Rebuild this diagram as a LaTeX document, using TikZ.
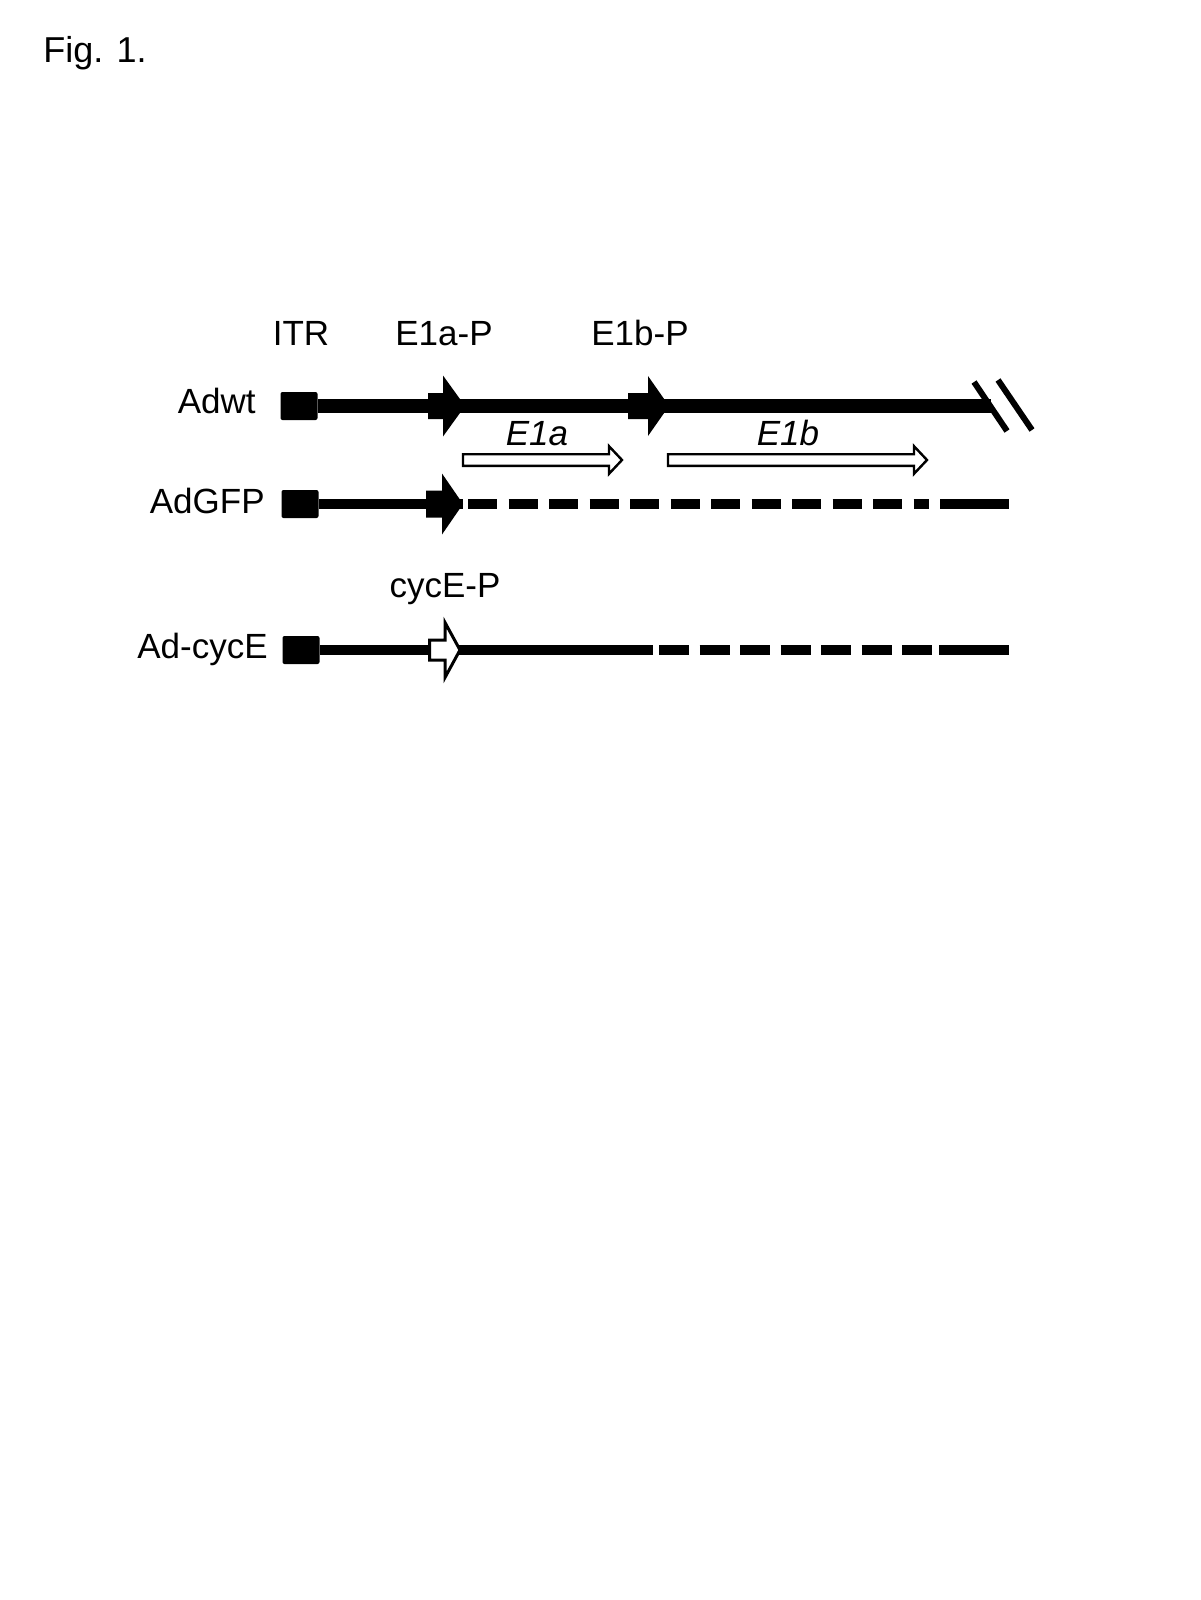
\documentclass[tikz,border=0pt]{standalone}
\usepackage{fontspec}
\setmainfont{Liberation Sans}
\usepackage{tikz}
\tikzstyle{itr} = [rectangle, rounded corners=1pt, minimum width=18.5pt, minimum height=14pt, fill=black, inner sep=0pt]
\tikzstyle{construct} = [font=\fontsize{17.5}{21}\selectfont, inner sep=0pt, anchor=base east]
\tikzstyle{site} = [font=\fontsize{17.5}{21}\selectfont, inner sep=0pt, anchor=base]
\tikzstyle{gene} = [font=\fontsize{17.5}{21}\selectfont\itshape, inner sep=0pt, anchor=base]
\tikzstyle{thickline} = [line width=7pt]
\tikzstyle{thinline} = [line width=5pt]
\tikzstyle{deleted} = [line width=5pt, dash pattern=on 14.5pt off 5.75pt]
\tikzstyle{transcript} = [draw=black, fill=white, line width=1.2pt, line join=miter]
\tikzstyle{promoter} = [fill=black]
\tikzstyle{openpromoter} = [draw=black, fill=white, line width=1.5pt, line join=miter]
\tikzstyle{breakmark} = [line width=3pt]
% block arrow: style, tail x, head base x, tip x, centre y, half body, half head
\newcommand{\blockarrow}[7]{\path[#1] (#2,#5-#6) -- (#3,#5-#6) -- (#3,#5-#7) -- (#4,#5) -- (#3,#5+#7) -- (#3,#5+#6) -- (#2,#5+#6) -- cycle;}

\begin{document}
\begin{tikzpicture}[x=0.5pt, y=-0.5pt]
\useasboundingbox (0,0) rectangle (1200,1600);
\node (fig) [anchor=base west, inner sep=0pt, font=\fontsize{18}{22}\selectfont] at (43,63) {Fig. 1.};

% labels
\node (itrLabel) [site] at (301,345) {ITR};
\node (e1aPLabel) [site] at (444,345) {E1a-P};
\node (e1bPLabel) [site] at (640,345) {E1b-P};
\node (cycEPLabel) [site] at (445,597) {cycE-P};
\node (wtName) [construct] at (256,413) {Adwt};
\node (gfpName) [construct] at (265,513) {AdGFP};
\node (cycEName) [construct] at (268,658) {Ad-cycE};
\node (e1aGene) [gene] at (537,445) {E1a};
\node (e1bGene) [gene] at (788,445) {E1b};

% ITR boxes
\node (itrWt) [itr] at (299,406) {};
\node (itrGfp) [itr] at (300,504) {};
\node (itrCycE) [itr] at (301,650) {};

% free ends
\coordinate (wtEnd) at (991,406);
\coordinate (gfpCut) at (463,504);
\coordinate (gfpDashA) at (468,504);
\coordinate (gfpDashB) at (929,504);
\coordinate (gfpTailA) at (940,504);
\coordinate (gfpTailB) at (1009,504);
\coordinate (cycECut) at (653,650);
\coordinate (cycEDashA) at (659,650);
\coordinate (cycEDashB) at (932,650);
\coordinate (cycETailA) at (939,650);
\coordinate (cycETailB) at (1009,650);

% Adwt
\draw [thickline] (itrWt) -- (wtEnd);
\draw [breakmark] (974,382) -- (1007,431);
\draw [breakmark] (998,380) -- (1032,430);
\blockarrow{promoter}{428}{443}{465}{406}{13}{30.5}
\blockarrow{promoter}{628}{648}{669}{406}{13}{30}
\blockarrow{transcript}{463}{609}{622}{460}{5.8}{13.8}
\blockarrow{transcript}{668}{914}{927}{460}{5.8}{13.8}

% AdGFP
\draw [thinline] (itrGfp) -- (gfpCut);
\draw [deleted] (gfpDashA) -- (gfpDashB);
\draw [thinline] (gfpTailA) -- (gfpTailB);
\blockarrow{promoter}{426}{442}{463}{504}{13.5}{30.5}

% Ad-cycE
\draw [thinline] (itrCycE) -- (cycECut);
\draw [deleted, dash pattern=on 15pt off 5.25pt] (cycEDashA) -- (cycEDashB);
\draw [thinline] (cycETailA) -- (cycETailB);
\blockarrow{openpromoter}{429.5}{445}{460}{650}{10}{27.5}
\end{tikzpicture}
\end{document}
